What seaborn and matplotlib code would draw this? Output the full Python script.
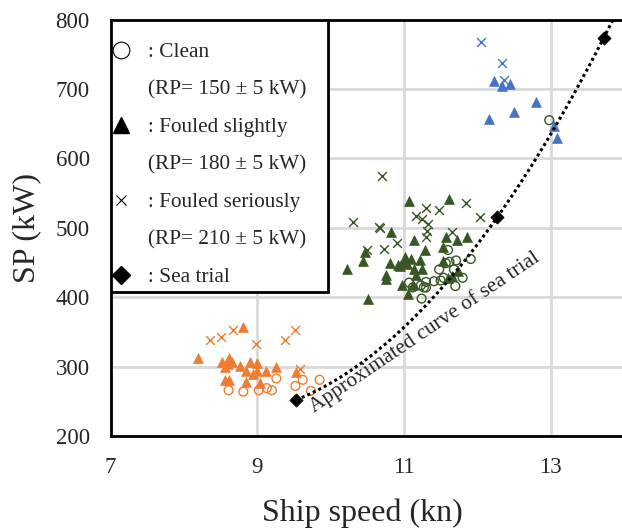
import matplotlib
matplotlib.use("Agg")
import matplotlib.pyplot as plt
from matplotlib.lines import Line2D
from matplotlib.patches import Rectangle
import numpy as np
import seaborn as sns

# colours of the three speed groups
c_orange = '#ED7D31'
c_green = '#375623'
c_blue = '#4472C4'

# --- orange group (low speed) ---
orange_clean_kn = [8.61, 8.81, 9.02, 9.13, 9.20, 9.26, 9.52, 9.62, 9.85, 9.73]
orange_clean_sp = [266, 264, 266, 269, 266, 283, 272, 281, 281, 265]
orange_slight_kn = [8.81, 8.19, 8.52, 8.62, 8.65, 8.56, 8.60, 8.77, 8.90, 9.00, 8.84, 8.94,
                    9.00, 9.12, 9.25, 9.53, 8.56, 8.61, 8.84, 9.04]
orange_slight_sp = [357, 313, 307, 312, 307, 300, 304, 301, 307, 305, 293, 290,
                    293, 294, 299, 292, 280, 280, 278, 277]
orange_serious_kn = [8.35, 8.51, 8.67, 8.98, 9.38, 9.52, 9.58]
orange_serious_sp = [338, 343, 353, 332, 338, 353, 297]

# --- green group (mid speed) ---
green_clean_kn = [11.60, 11.91, 11.71, 11.62, 11.57, 11.48, 11.68, 11.80, 11.54, 11.50,
                  11.41, 11.30, 11.23, 11.30, 11.27, 11.07, 11.12, 11.70, 11.24, 12.98]
green_clean_sp = [468, 455, 453, 451, 449, 440, 440, 428, 428, 424,
                  423, 422, 417, 414, 414, 421, 414, 416, 398, 655]
green_slight_kn = [11.07, 11.62, 10.83, 11.14, 11.28, 11.57, 11.72, 11.86, 11.53, 10.47,
                   10.44, 10.23, 10.81, 10.95, 10.92, 11.01, 11.04, 11.13, 11.22, 11.24,
                   10.76, 10.76, 11.17, 10.97, 11.06, 11.12, 11.53, 11.60, 11.74, 10.51,
                   11.65, 11.00, 11.10]
green_slight_sp = [539, 541, 494, 483, 468, 487, 482, 486, 472, 465,
                   452, 441, 449, 445, 446, 458, 448, 441, 453, 441,
                   432, 426, 432, 417, 405, 417, 452, 428, 438, 397,
                   430, 450, 455]
green_serious_kn = [10.70, 10.30, 10.66, 10.68, 10.90, 10.73, 10.49, 11.17, 11.25, 11.30,
                    11.48, 11.33, 11.32, 11.30, 11.66, 11.85, 12.04]
green_serious_sp = [574, 508, 501, 499, 478, 470, 468, 517, 512, 528,
                    525, 505, 495, 487, 494, 535, 516]

# --- blue group (high speed) ---
blue_slight_kn = [12.23, 12.34, 12.45, 12.80, 12.50, 12.16, 13.05, 13.08]
blue_slight_sp = [712, 704, 707, 681, 667, 656, 647, 630]
blue_serious_kn = [12.05, 12.34, 12.37]
blue_serious_sp = [767, 738, 713]

# --- sea trial ---
trial_kn = [9.53, 12.27, 13.72]
trial_sp = [252, 515, 773]

legend_labels = [': Clean', '(RP= 150 ± 5 kW)', ': Fouled slightly', '(RP= 180 ± 5 kW)',
                 ': Fouled seriously', '(RP= 210 ± 5 kW)', ': Sea trial']

sns.set_style('white')
plt.rcParams['font.family'] = ['Liberation Serif', 'DejaVu Serif']

fig = plt.figure(figsize=(6.22, 5.28), dpi=100)
ax = fig.add_axes([0.1777, 0.1742, 0.8256, 0.7888])

# open circles
for kn, sp, col in [(orange_clean_kn, orange_clean_sp, c_orange),
                    (green_clean_kn, green_clean_sp, c_green)]:
    sns.scatterplot(x=kn, y=sp, ax=ax, marker='o', color='none', edgecolor=col,
                    linewidth=1.0, s=40, zorder=3)
# filled triangles
for kn, sp, col in [(orange_slight_kn, orange_slight_sp, c_orange),
                    (green_slight_kn, green_slight_sp, c_green),
                    (blue_slight_kn, blue_slight_sp, c_blue)]:
    sns.scatterplot(x=kn, y=sp, ax=ax, marker='^', color=col, edgecolor=col,
                    linewidth=0.5, s=50, zorder=3)
# crosses
for kn, sp, col in [(orange_serious_kn, orange_serious_sp, c_orange),
                    (green_serious_kn, green_serious_sp, c_green),
                    (blue_serious_kn, blue_serious_sp, c_blue)]:
    sns.scatterplot(x=kn, y=sp, ax=ax, marker='x', color=col, linewidth=1.0, s=40, zorder=3)

# approximated curve of the sea trial
coef = np.polyfit(trial_kn, trial_sp, 2)
curve_kn = np.linspace(trial_kn[0], 13.95, 200)
sns.lineplot(x=curve_kn, y=np.polyval(coef, curve_kn), ax=ax, color='black',
             linestyle=(0, (1, 1)), linewidth=2.2, zorder=4)
sns.scatterplot(x=trial_kn, y=trial_sp, ax=ax, marker='D', color='black', edgecolor='black',
                s=45, zorder=5)

ax.text(11.28, 350, 'Approximated curve of sea trial', fontsize=15.4, rotation=34,
        rotation_mode='anchor', ha='center', va='center', zorder=6)

ax.set_xlim(7, 14)
ax.set_ylim(200, 800)
ax.set_xticks([7, 9, 11, 13])
ax.set_yticks(range(200, 801, 100))
ax.tick_params(axis='both', length=0, labelsize=16.5, pad=15)
ax.grid(True, color='#d9d9d9', linewidth=2)
ax.set_axisbelow(True)
for sp_ in ax.spines.values():
    sp_.set_color('black')
    sp_.set_linewidth(2)
ax.spines['right'].set_visible(False)
ax.set_xlabel('Ship speed (kn)', fontsize=23)
ax.xaxis.set_label_coords(0.49, -0.15)
ax.set_ylabel('SP (kW)', fontsize=23, labelpad=10)

# legend box
ax.add_patch(Rectangle((0, 0.3457), 0.4236, 0.6543, transform=ax.transAxes,
                       facecolor='white', edgecolor='black', linewidth=2, zorder=9))
blank = Line2D([], [], linestyle='none')
handles = [Line2D([], [], marker='o', linestyle='none', markerfacecolor='white',
                  markeredgecolor='black', markersize=12, markeredgewidth=0.8),
           blank,
           Line2D([], [], marker='^', linestyle='none', color='black', markersize=12),
           blank,
           Line2D([], [], marker='x', linestyle='none', color='black', markersize=7,
                  markeredgewidth=0.8),
           blank,
           Line2D([], [], marker='D', linestyle='none', color='black', markersize=9)]
leg = ax.legend(handles, legend_labels, loc='upper left', bbox_to_anchor=(0.002, 0.945),
                borderaxespad=0, borderpad=0, fontsize=15.3, frameon=False,
                handlelength=0.9, handletextpad=0.8, labelspacing=0.83)
leg.set_zorder(10)

fig.savefig('out.png', dpi=100)
